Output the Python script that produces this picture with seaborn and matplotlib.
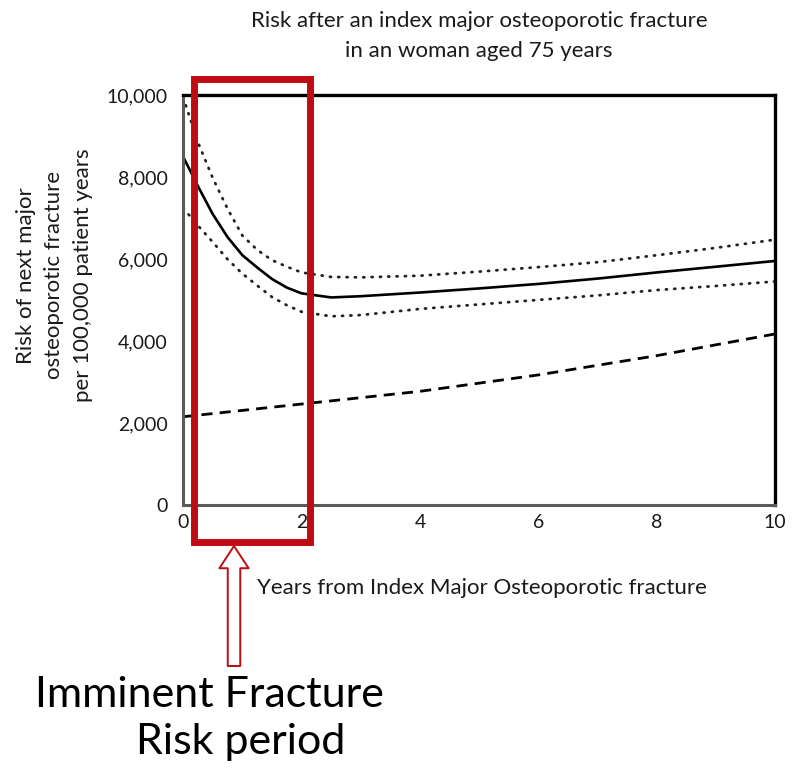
import matplotlib
matplotlib.use("Agg")
import matplotlib.pyplot as plt
import matplotlib.patches as mpatches
import pandas as pd
import seaborn as sns

# values
years = [0, 0.25, 0.5, 0.75, 1, 1.25, 1.5, 1.75, 2, 2.5, 3, 4, 5, 6, 7, 8, 9, 10]
risk = [8500, 7780, 7100, 6540, 6100, 5800, 5520, 5310, 5170, 5070, 5100,
        5190, 5290, 5400, 5530, 5680, 5820, 5960]
upper_ci = [9950, 8850, 7980, 7230, 6580, 6230, 5980, 5820, 5680, 5570, 5560,
            5600, 5700, 5810, 5930, 6100, 6280, 6480]
lower_ci = [7250, 6820, 6420, 6000, 5650, 5360, 5080, 4880, 4720, 4610, 4640,
            4790, 4900, 5010, 5120, 5250, 5350, 5460]
baseline_years = [0, 2, 4, 6, 8, 10]
baseline = [2160, 2470, 2780, 3180, 3650, 4180]

imminent_period = (0.18, 2.14)

y_ticks = [0, 2000, 4000, 6000, 8000, 10000]
x_ticks = [0, 2, 4, 6, 8, 10]

df = pd.DataFrame({"year": years, "risk": risk, "upper": upper_ci, "lower": lower_ci})
base_df = pd.DataFrame({"year": baseline_years, "risk": baseline})

sns.set_style("white")
plt.rcParams["font.family"] = ["Lato", "DejaVu Sans"]

RED = "#c00a14"
TXT = "#1a1a1a"
FS = 16

fig = plt.figure(figsize=(8, 7.75), dpi=100)
ax = fig.add_axes([0.229, 0.348, 0.74, 0.529])

dots = (0, (0.4, 2.6))
sns.lineplot(data=df, x="year", y="upper", ax=ax, color="#222222",
             linewidth=2.0, linestyle=dots, dash_capstyle="round")
sns.lineplot(data=df, x="year", y="lower", ax=ax, color="#222222",
             linewidth=2.0, linestyle=dots, dash_capstyle="round")
sns.lineplot(data=df, x="year", y="risk", ax=ax, color="black", linewidth=1.9)
sns.lineplot(data=base_df, x="year", y="risk", ax=ax, color="black",
             linewidth=2.0, linestyle=(0, (4, 2.6)))

ax.set_xlim(0, 10)
ax.set_ylim(0, 10000)
ax.set_xticks(x_ticks)
ax.set_yticks(y_ticks)
ax.set_yticklabels([f"{v:,}" for v in y_ticks])
ax.set_yticks(range(1000, 10000, 2000), minor=True)
ax.tick_params(axis="both", which="both", direction="in", length=4, width=1,
               color="#b0b0b0", labelsize=14, labelcolor=TXT)
ax.tick_params(axis="y", pad=11)
ax.tick_params(axis="x", pad=6)

for side in ["top", "right"]:
    ax.spines[side].set_color("black")
    ax.spines[side].set_linewidth(2.4)
for side in ["left", "bottom"]:
    ax.spines[side].set_color("#5a5a5a")
    ax.spines[side].set_linewidth(2.2)

ax.set_xlabel("Years from Index Major Osteoporotic fracture", fontsize=FS, color=TXT)
ax.xaxis.set_label_coords(0.505, -0.178)
ax.set_ylabel("Risk of next major\nosteoporotic fracture\nper 100,000 patient years",
              fontsize=FS, color=TXT, linespacing=1.55)
ax.yaxis.set_label_coords(-0.152, 0.561)

fig.text(479 / 800, 1 - 36 / 775,
         "Risk after an index major osteoporotic fracture\nin an woman aged 75 years",
         ha="center", va="center", fontsize=FS, color=TXT, linespacing=1.65)

# imminent risk window
x0, x1 = imminent_period
box = mpatches.Rectangle((x0, -890), x1 - x0, 10400 + 890, fill=False,
                         edgecolor=RED, linewidth=5, clip_on=False, zorder=10)
ax.add_patch(box)

arrow = mpatches.FancyArrowPatch(
    (234 / 800, 1 - 666 / 775), (234 / 800, 1 - 546 / 775),
    transform=fig.transFigure,
    arrowstyle="simple,head_length=16,head_width=21,tail_width=9",
    mutation_scale=1, facecolor="white", edgecolor=RED, linewidth=1.4,
    shrinkA=0, shrinkB=0)
fig.patches.append(arrow)

fig.text(209 / 800, 1 - 695 / 775, "Imminent Fracture", ha="center", va="center",
         fontsize=31, color="black")
fig.text(241 / 800, 1 - 742 / 775, "Risk period", ha="center", va="center",
         fontsize=31, color="black")

fig.savefig("out.png", dpi=100)
